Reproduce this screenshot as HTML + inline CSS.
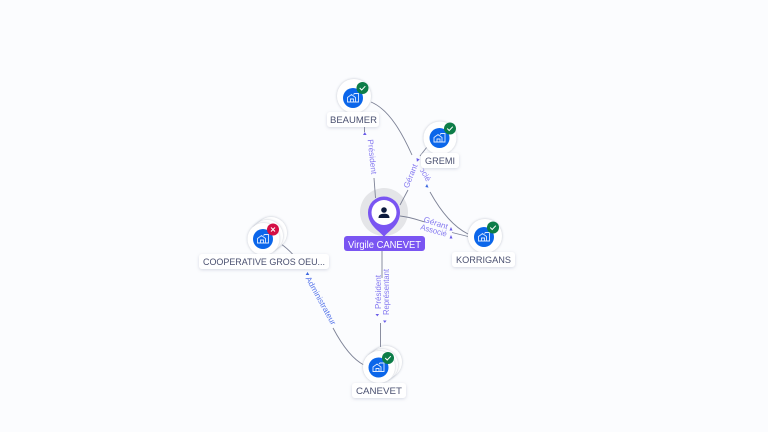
<!DOCTYPE html>
<html><head><meta charset="utf-8"><style>
html,body{margin:0;padding:0;background:#fbfcfe;width:768px;height:432px;overflow:hidden}
svg{display:block}
text{font-family:"Liberation Sans",sans-serif}
.n{font-size:9.5px;fill:#4a5070;text-anchor:middle}
.e{font-size:8px;fill:#8478f0;text-anchor:middle}
.l{fill:none;stroke:#7d8296;stroke-width:.9}
.lb{fill:#fff;filter:url(#s)}
.c{fill:#fff;filter:url(#s2)}
</style></head><body>
<svg width="768" height="432" viewBox="0 0 768 432" xmlns="http://www.w3.org/2000/svg">
<defs>
<filter id="s" x="-20%" y="-50%" width="140%" height="200%"><feDropShadow dx="0" dy="1" stdDeviation="1.6" flood-color="#8088a8" flood-opacity=".3"/></filter>
<filter id="s2" x="-30%" y="-30%" width="160%" height="160%"><feDropShadow dx="0" dy="0" stdDeviation="1.4" flood-color="#707890" flood-opacity=".45"/></filter>
<g id="b"><path d="M-5.500 4V-.5L-1.500-3.500 2.500-.5V4ZM-2.500 4V1H.5V4M.5-3.500 1.500-4.500H5.500V4H2.500" fill="none" stroke="#dce9ff" stroke-width=".9"/></g>
<g id="ok"><circle r="6" fill="#0d7d48"/><path d="M-2.800 0-.8 2 2.800-1.800" fill="none" stroke="#fff" stroke-width="1"/></g>
</defs>
<rect width="768" height="432" fill="#fbfcfe"/>

<circle cx="384" cy="212" r="24" fill="#e4e5e8"/>

<!-- edge label partly hidden behind the neighbouring label -->
<text class="e" transform="translate(419.500 170) rotate(59)">Associé</text>
<polygon points="405,150 427,150 426.600,166.400 409.400,176.600" fill="#fbfcfe"/>

<!-- connectors -->
<path class="l" d="M364.500 127V132"/>
<path class="l" d="M374 178L375.500 198"/>
<path class="l" d="M371 102C390 110 403 135 412 155"/>
<path class="l" d="M430 192C440 210 452 226 468 234"/>
<path class="l" d="M427 147L420 156"/>
<path class="l" d="M408 190L400 205"/>
<path class="l" d="M400 216C410 217 418 220 425 222"/>
<path class="l" d="M452 232.500L468 236.500"/>
<path class="l" d="M382 250V278"/>
<path class="l" d="M380.500 323V350"/>
<path class="l" d="M281 244C290 250 298 260 305 269"/>
<path class="l" d="M333 328C342 345 352 359 364 365"/>

<!-- arrowheads -->
<g fill="#6a5ce8">
<path d="M364.800 132l1.800 3h-3.600z"/>
<path d="M416.500 158l3.200 1.500-2.800 2.200z"/>
<path d="M427 184l1.500 3.600-3.200-.6z" fill="#3d68e0"/>
<path d="M451 227l1.500 3.500-3 0z"/>
<path d="M451 235l1.500 3.500-3 0z"/>
<path d="M375.500 314l3.600 0-1.800 2.400z"/>
<path d="M383 320.500l3.600 0-1.800 2.400z"/>
<path d="M307.500 272l1.800 3h-3.600z" fill="#3d68e0"/>
</g>

<!-- edge labels -->
<text class="e" transform="translate(369.500 157) rotate(84)" textLength="35" lengthAdjust="spacingAndGlyphs">Président</text>
<text class="e" transform="translate(413 177) rotate(-68)" textLength="25" lengthAdjust="spacingAndGlyphs">Gérant</text>
<text class="e" transform="translate(435 225.500) rotate(18)" textLength="25" lengthAdjust="spacingAndGlyphs">Gérant</text>
<text class="e" transform="translate(433 233) rotate(16)" textLength="27" lengthAdjust="spacingAndGlyphs">Associé</text>
<text class="e" transform="translate(381 292) rotate(-90)" textLength="34" lengthAdjust="spacingAndGlyphs">Président</text>
<text class="e" transform="translate(389 292) rotate(-90)" textLength="46" lengthAdjust="spacingAndGlyphs">Représentant</text>
<text class="e" style="fill:#5a78ea" transform="translate(318.500 302) rotate(61)" textLength="54" lengthAdjust="spacingAndGlyphs">Administrateur</text>

<!-- BEAUMER -->
<circle class="c" cx="354" cy="96" r="17"/>
<circle cx="353" cy="98" r="10" fill="#0b66ea"/>
<use href="#b" x="353" y="98"/>
<use href="#ok" x="362.500" y="88"/>
<rect class="lb" x="327" y="112" width="52" height="15" rx="3"/>
<text class="n" x="353.500" y="123" textLength="47" lengthAdjust="spacingAndGlyphs">BEAUMER</text>

<!-- GREMI -->
<circle class="c" cx="440" cy="138" r="16.500"/>
<circle cx="439.500" cy="138" r="10" fill="#0b66ea"/>
<use href="#b" x="439.500" y="138"/>
<use href="#ok" x="450" y="128.500"/>
<rect class="lb" x="421" y="153" width="38" height="15" rx="3"/>
<text class="n" x="440" y="164" textLength="30" lengthAdjust="spacingAndGlyphs">GREMI</text>

<!-- KORRIGANS -->
<circle class="c" cx="485" cy="236" r="17"/>
<circle cx="484" cy="237" r="10" fill="#0b66ea"/>
<use href="#b" x="484" y="237"/>
<use href="#ok" x="493" y="227.500"/>
<rect class="lb" x="452" y="252" width="63" height="15" rx="3"/>
<text class="n" x="483.500" y="263" textLength="55" lengthAdjust="spacingAndGlyphs">KORRIGANS</text>

<!-- COOPERATIVE -->
<circle class="c" cx="271" cy="233" r="16"/>
<circle class="c" cx="267" cy="236" r="16"/>
<circle class="c" cx="263.500" cy="239" r="16"/>
<circle cx="263" cy="239" r="10" fill="#0b66ea"/>
<use href="#b" x="263" y="239"/>
<circle cx="273" cy="229.500" r="6" fill="#d40f45"/>
<path d="M271 227.500l4 4M275 227.500l-4 4" stroke="#fff" stroke-width="1" fill="none"/>
<rect class="lb" x="199" y="254" width="130" height="15" rx="3"/>
<text class="n" x="264" y="265" textLength="122" lengthAdjust="spacingAndGlyphs">COOPERATIVE GROS OEU...</text>

<!-- CANEVET -->
<circle class="c" cx="386" cy="362" r="16"/>
<circle class="c" cx="382" cy="365" r="16"/>
<circle class="c" cx="379" cy="367" r="16"/>
<circle cx="378.500" cy="367.500" r="10" fill="#0b66ea"/>
<use href="#b" x="378.500" y="367.500"/>
<use href="#ok" x="388" y="358"/>
<rect class="lb" x="352" y="383" width="54" height="15" rx="3"/>
<text class="n" x="379" y="394" textLength="46" lengthAdjust="spacingAndGlyphs">CANEVET</text>

<!-- Virgile -->
<path d="M384 237C380 231 368 226 368 212.500A16 16 0 0 1 400 212.500C400 226 388 231 384 237Z" fill="#7a55f2"/>
<circle cx="384" cy="212.500" r="12.500" fill="#fff"/>
<circle cx="384" cy="210" r="2.800" fill="#0d1b3e"/>
<path d="M378.500 218C378.500 214.500 381 213.800 384 213.800S389.500 214.500 389.500 218Z" fill="#0d1b3e"/>
<rect x="344" y="236" width="81" height="15" rx="3" fill="#7a55f2"/>
<text x="384.500" y="248" font-size="10" fill="#fff" text-anchor="middle" textLength="73" lengthAdjust="spacingAndGlyphs">Virgile CANEVET</text>
</svg>
</body></html>
